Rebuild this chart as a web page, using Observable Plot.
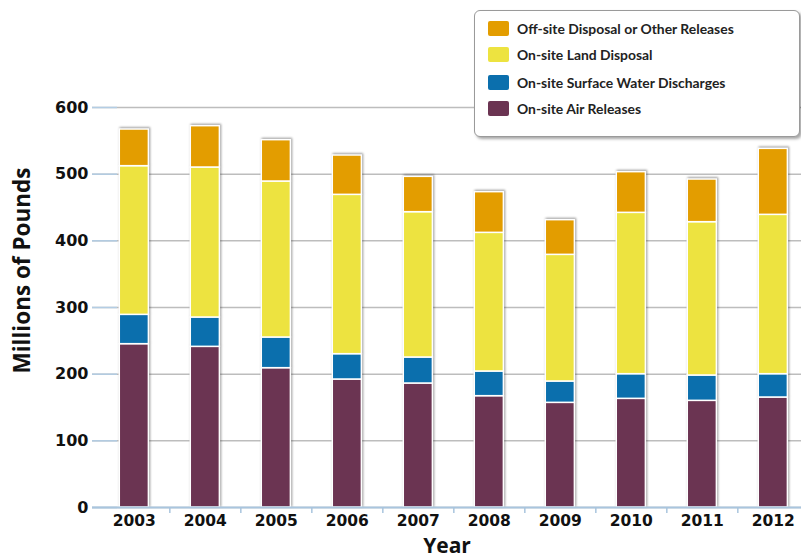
<!DOCTYPE html>
<html><head><meta charset="utf-8">
<script src="https://cdn.jsdelivr.net/npm/d3@7"></script>
<script src="https://cdn.jsdelivr.net/npm/@observablehq/plot@0.6"></script>
<style>
html,body{margin:0;padding:0;background:#fff;}
#wrap{position:relative;width:801px;height:557px;overflow:hidden;}
#legend{position:absolute;left:474px;top:10px;width:324px;height:125px;border:1.5px solid #9a9a9a;border-radius:6px;background:#fff;box-shadow:2px 2px 3px rgba(0,0,0,0.35);font-family:Lato,"Open Sans",sans-serif;font-weight:bold;font-size:13.9px;color:#222;}
.item{position:absolute;left:13px;display:flex;align-items:center;white-space:nowrap;}
.sw{width:21px;height:15px;border-radius:2px;margin-right:8px;}
g[aria-label="bar"]{filter:drop-shadow(1.2px -0.5px 1px rgba(0,0,0,0.4));}
</style>
</head><body>
<div id="wrap"></div>
<script>
const years = ["2003","2004","2005","2006","2007","2008","2009","2010","2011","2012"];
const airReleases     = [245, 241, 209, 192, 186, 167, 157, 163, 160, 165];
const waterDischarges = [44, 44, 46, 38, 39, 37, 32, 37, 38, 35];
const landDisposal    = [223, 225, 234, 239, 218, 208, 190, 242, 230, 239];
const offsiteReleases = [55, 62, 62, 59, 53, 61, 52, 61, 64, 99];
const seriesNames = ["On-site Air Releases","On-site Surface Water Discharges","On-site Land Disposal","Off-site Disposal or Other Releases"];
const seriesColors = ["#6b3452","#0b6fad","#ede340","#e39d00"];
const yTicks = [0,100,200,300,400,500,600];

const seriesValues = [airReleases, waterDischarges, landDisposal, offsiteReleases];
const rows = [];
years.forEach((yr, i) => {
  seriesNames.forEach((s, j) => rows.push({year: yr, series: s, value: seriesValues[j][i]}));
});

const chart = Plot.plot({
  width: 801, height: 557,
  marginLeft: 92, marginRight: 0, marginTop: 107, marginBottom: 50,
  style: {fontFamily: "DejaVu Sans", fontWeight: "bold", fontSize: "15.5px", color: "#111", overflow: "visible", background: "white"},
  x: {type: "band", domain: years, paddingInner: 0.59, paddingOuter: 0.288, align: 0.667, round: false, label: null},
  y: {domain: [0, 600], label: null},
  color: {domain: seriesNames, range: seriesColors},
  marks: [
    Plot.gridY(yTicks, {stroke: "#bdbdbd", strokeOpacity: 1, strokeWidth: 1.5}),
    Plot.axisY(yTicks, {text: null, tickSize: 25, dx: 25, stroke: "#b3cde4", strokeWidth: 1.5, label: null}),
    Plot.axisY(yTicks, {tickSize: 0, tickPadding: 4, fontSize: 16, fontWeight: "bold", fill: "#111", label: null}),
    Plot.barY(rows, {x: "year", y: "value", fill: "series", stroke: "white", strokeWidth: 1.5}),
    Plot.ruleY([0], {stroke: "#a9c5de", strokeWidth: 2}),
    Plot.axisX(years.slice(0, -1), {text: null, tickSize: 6, dx: 35.5, stroke: "#a9c5de", strokeWidth: 1.5, label: null}),
    Plot.axisX({tickSize: 0, tickPadding: 7, fontSize: 15.5, fontWeight: "bold", fill: "#111", label: null}),
    Plot.text(["Millions of Pounds"], {frameAnchor: "left", textAnchor: "middle", rotate: -90, dx: -70, dy: -37, fontSize: 22.5, fontWeight: "bold", fontFamily: "Open Sans", fill: "#111"}),
    Plot.text(["Year"], {frameAnchor: "bottom", dy: 45, fontSize: 21, fontWeight: "bold", fontFamily: "Open Sans", fill: "#111"})
  ]
});
const wrap = document.getElementById("wrap");
wrap.appendChild(chart);

const legend = document.createElement("div");
legend.id = "legend";
const tops = [9, 35, 63, 89];
[...seriesNames].reverse().forEach((name, k) => {
  const idx = seriesNames.indexOf(name);
  const item = document.createElement("div");
  item.className = "item";
  item.style.top = tops[k] + "px";
  const sw = document.createElement("div");
  sw.className = "sw";
  sw.style.background = seriesColors[idx];
  const t = document.createElement("span");
  t.textContent = name;
  item.appendChild(sw); item.appendChild(t);
  legend.appendChild(item);
});
wrap.appendChild(legend);
</script>
</body></html>
